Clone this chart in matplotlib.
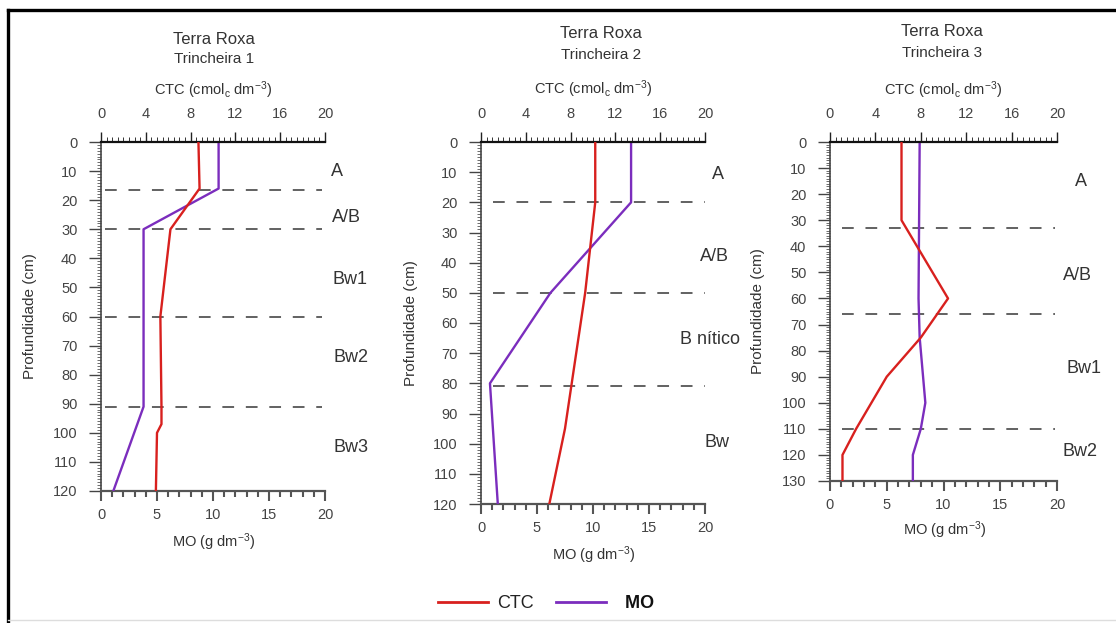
import matplotlib
matplotlib.use('Agg')
import matplotlib.pyplot as plt
from matplotlib.ticker import MultipleLocator
from matplotlib.lines import Line2D

plt.rcParams['font.family'] = ['Liberation Sans', 'DejaVu Sans']
plt.rcParams['mathtext.fontset'] = 'custom'
plt.rcParams['mathtext.rm'] = 'Liberation Sans'
plt.rcParams['mathtext.default'] = 'regular'

# ---------------- data ----------------
titles = ["Trincheira 1", "Trincheira 2", "Trincheira 3"]

ctc1_depth = [0, 16, 30, 60, 91, 97, 100, 120]
ctc1 = [8.7, 8.8, 6.2, 5.3, 5.4, 5.4, 5.0, 4.9]
mo1_depth = [0, 16, 30, 91, 120]
mo1 = [10.5, 10.5, 3.8, 3.8, 1.1]
bounds1 = [16.5, 30, 60, 91]
hz1 = ["A", "A/B", "Bw1", "Bw2", "Bw3"]
hz1_depth = [10.3, 25.8, 47.4, 74, 105]
hz1_x = [1.027, 1.03, 1.035, 1.04, 1.04]

ctc2_depth = [0, 20, 50, 80, 95, 120]
ctc2 = [10.2, 10.2, 9.3, 8.1, 7.5, 6.1]
mo2_depth = [0, 20, 50, 80, 120]
mo2 = [13.4, 13.4, 6.2, 0.8, 1.5]
bounds2 = [20, 50, 81]
hz2 = ["A", "A/B", "B nítico", "Bw"]
hz2_depth = [10.9, 38, 65.6, 99.7]
hz2_x = [1.031, 0.978, 0.888, 1.0]

ctc3_depth = [0, 30, 60, 75, 90, 110, 120, 130]
ctc3 = [6.3, 6.3, 10.4, 8.0, 5.0, 2.3, 1.1, 1.1]
mo3_depth = [0, 60, 75, 100, 110, 120, 130]
mo3 = [7.9, 7.8, 7.9, 8.4, 8.0, 7.3, 7.3]
bounds3 = [33, 66, 110]
hz3 = ["A", "A/B", "Bw1", "Bw2"]
hz3_depth = [15.3, 51.3, 87, 118.8]
hz3_x = [1.079, 1.026, 1.04, 1.026]

legend_labels = ["CTC", "MO"]

panels = [
    dict(ctc_d=ctc1_depth, ctc=ctc1, mo_d=mo1_depth, mo=mo1, bounds=bounds1,
         hz=hz1, hz_d=hz1_depth, hz_x=hz1_x, ymax=120, dash_x0=0.4, dash_x1=19.7,
         px=(101, 325, 142, 491), title_y=(40, 59, 90), title_x=214,
         ylab_x=30, mo_lab_y=542),
    dict(ctc_d=ctc2_depth, ctc=ctc2, mo_d=mo2_depth, mo=mo2, bounds=bounds2,
         hz=hz2, hz_d=hz2_depth, hz_x=hz2_x, ymax=120, dash_x0=1.1, dash_x1=20.0,
         px=(481, 705, 142, 504), title_y=(33, 55, 89), title_x=601,
         ylab_x=411, mo_lab_y=555),
    dict(ctc_d=ctc3_depth, ctc=ctc3, mo_d=mo3_depth, mo=mo3, bounds=bounds3,
         hz=hz3, hz_d=hz3_depth, hz_x=hz3_x, ymax=130, dash_x0=1.1, dash_x1=19.8,
         px=(830, 1057, 142, 481), title_y=(32, 53, 90), title_x=942,
         ylab_x=758, mo_lab_y=530),
]

W, H = 1116, 623
fig = plt.figure(figsize=(W / 100, H / 100), dpi=100)

RED = '#d8201e'
PURPLE = '#7b2dbd'
TXT = '#333333'
TICKC = '#444444'

for i, p in enumerate(panels):
    x0, x1, yt, yb = p['px']
    ax = fig.add_axes([x0 / W, 1 - yb / H, (x1 - x0) / W, (yb - yt) / H])
    axt = ax.twiny()
    for a in (ax, axt):
        a.set_xlim(0, 20)
        a.set_ylim(p['ymax'], 0)
        a.spines['right'].set_visible(False)
    ax.spines['top'].set_visible(False)
    axt.spines['bottom'].set_visible(False)
    axt.spines['left'].set_visible(False)
    axt.spines['top'].set_linewidth(1.6)
    axt.spines['top'].set_color('#111111')
    ax.spines['left'].set_color('#444444')
    ax.spines['left'].set_linewidth(1.2)
    ax.spines['bottom'].set_color('#555555')
    ax.spines['bottom'].set_linewidth(1.6)

    # dashed horizon boundaries
    for b in p['bounds']:
        ax.plot([p['dash_x0'], p['dash_x1']], [b, b], color='#555555', lw=1.3,
                dashes=(6.5, 6.5), zorder=1)

    # data lines
    axt.plot(p['ctc'], p['ctc_d'], color=RED, lw=1.7, zorder=3)
    ax.plot(p['mo'], p['mo_d'], color=PURPLE, lw=1.7, zorder=3)

    # bottom MO axis
    ax.xaxis.set_major_locator(MultipleLocator(5))
    ax.xaxis.set_minor_locator(MultipleLocator(1))
    ax.tick_params(axis='x', which='major', direction='out', length=7, width=1.5,
                   color='#555555', labelsize=10.5, labelcolor=TICKC, pad=5)
    ax.tick_params(axis='x', which='minor', direction='out', length=4, width=1.5,
                   color='#555555')
    # left depth axis
    ax.yaxis.set_major_locator(MultipleLocator(10))
    ax.yaxis.set_minor_locator(MultipleLocator(1))
    ax.tick_params(axis='y', which='major', direction='out', length=9, width=1.0,
                   color='#444444', labelsize=10.5, labelcolor=TICKC, pad=8)
    ax.tick_params(axis='y', which='minor', direction='out', length=3, width=0.6,
                   color='#555555')
    # top CTC axis
    axt.xaxis.set_major_locator(MultipleLocator(4))
    axt.xaxis.set_minor_locator(MultipleLocator(0.5))
    axt.tick_params(axis='x', which='major', direction='out', length=7, width=1.0,
                    color='#222222', labelsize=10.5, labelcolor=TICKC, pad=8)
    axt.tick_params(axis='x', which='minor', direction='out', length=3.5, width=0.7,
                    color='#333333')

    # horizon labels
    for name, d, hx in zip(p['hz'], p['hz_d'], p['hz_x']):
        ax.text(hx, d, name, transform=ax.get_yaxis_transform(), ha='left',
                va='center', fontsize=13, color=TXT, clip_on=False)

    # titles and axis labels
    fig.text(p['title_x'] / W, 1 - p['title_y'][0] / H, "Terra Roxa",
             ha='center', va='center', fontsize=12, color=TXT)
    fig.text(p['title_x'] / W, 1 - p['title_y'][1] / H, titles[i],
             ha='center', va='center', fontsize=11, color=TXT)
    fig.text(((x0 + x1) / 2) / W, 1 - p['title_y'][2] / H,
             r'CTC (cmol$_c$ dm$^{-3}$)', ha='center', va='center',
             fontsize=10.5, color=TXT)
    fig.text(((x0 + x1) / 2 + 1) / W, 1 - p['mo_lab_y'] / H,
             r'MO (g dm$^{-3}$)', ha='center', va='center', fontsize=10.5,
             color=TXT)
    fig.text(p['ylab_x'] / W, 1 - ((yt + yb) / 2) / H, "Profundidade (cm)",
             rotation=90, ha='center', va='center', fontsize=11, color=TXT)

# legend
handles = [Line2D([], [], color=RED, lw=2), Line2D([], [], color=PURPLE, lw=2)]
leg = fig.legend(handles, [legend_labels[0], "  " + legend_labels[1]], loc='center',
                 bbox_to_anchor=(546 / W, 1 - 604 / H), ncol=2, frameon=False,
                 fontsize=13, handlelength=2.8, handletextpad=0.5,
                 columnspacing=1.2)
txts = leg.get_texts()
txts[0].set_color('#222222')
txts[1].set_fontweight('bold')
txts[1].set_color('#111111')

# figure border (top and left visible)
fig.add_artist(Line2D([8 / W, 1.0], [1 - 10 / H, 1 - 10 / H], color='black',
                      lw=2.4, transform=fig.transFigure))
fig.add_artist(Line2D([8 / W, 8 / W], [1 - 10 / H, 1 - 621 / H], color='black',
                      lw=2.4, transform=fig.transFigure))
fig.add_artist(Line2D([8 / W, 1.0], [1 - 620 / H, 1 - 620 / H], color='#dddddd',
                      lw=1.0, transform=fig.transFigure))

fig.savefig('out.png', dpi=100)
